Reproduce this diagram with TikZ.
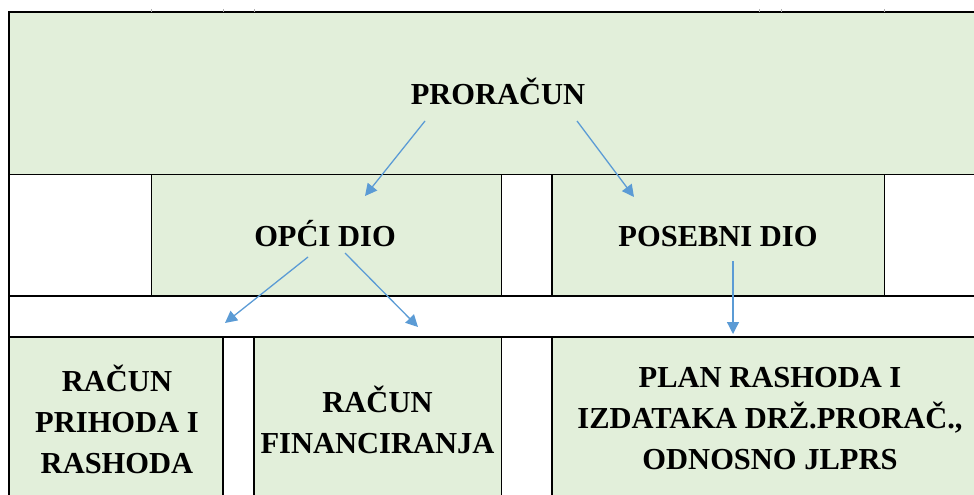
\documentclass[tikz,border=0pt]{standalone}
\usepackage{fontspec}
\setmainfont{Liberation Serif}
\usetikzlibrary{arrows.meta}
\definecolor{cellgreen}{HTML}{E2EFDA}
\definecolor{arrowblue}{HTML}{5B9BD5}

\begin{document}
\begin{tikzpicture}[x=1pt,y=-1pt]
\tikzstyle{cell}=[fill=cellgreen]
\tikzstyle{grid}=[draw=black, line width=1.1pt]
\tikzstyle{outer}=[draw=black, line width=1.8pt]
\tikzstyle{label}=[font=\fontsize{30.5}{41}\selectfont\bfseries, align=center, inner sep=0pt]
\tikzstyle{link}=[draw=arrowblue, line width=1.3pt, -{Triangle[length=12pt,width=12pt]}]

\useasboundingbox (0,0) rectangle (974,495);

% green cells
\fill[cell] (9,12) rectangle (974,174.5);
\fill[cell] (151.5,174.5) rectangle (501.5,296);
\fill[cell] (552,174.5) rectangle (884.5,296);
\fill[cell] (9,337) rectangle (223,495);
\fill[cell] (254,337) rectangle (501.5,495);
\fill[cell] (552,337) rectangle (974,495);

% grid lines
\foreach \y in {174.5,296,337}
  \draw[grid] (9,\y) -- (974,\y);
\foreach \x in {151.5,501.5,552,884.5}
  \draw[grid] (\x,174.5) -- (\x,296);
\foreach \x in {223,254,501.5,552}
  \draw[grid] (\x,337) -- (\x,495);
\draw[outer] (974,12) -- (9,12) -- (9,495);
\foreach \x in {151,223,254,759,781,884}
  \draw[gray!60, line width=0.6pt] (\x,9) -- (\x,12);

% texts
\node[label, anchor=base] (proracun) at (498,104) {PRORAČUN};
\node[label, anchor=base] (opci) at (325,246) {OPĆI DIO};
\node[label, anchor=base] (posebni) at (718,246) {POSEBNI DIO};
\node[label] (prihodi) at (117,419) {RAČUN\\PRIHODA I\\RASHODA};
\node[label] (financ) at (377.5,420) {RAČUN\\FINANCIRANJA};
\node[label] (plan) at (770,419) {PLAN RASHODA I\\IZDATAKA DRŽ.PRORAČ.,\\ODNOSNO JLPRS};

% arrow ends
\coordinate (proracun-l) at (425,121);
\coordinate (proracun-r) at (577,121);
\coordinate (opci-in) at (365,196);
\coordinate (posebni-in) at (634,197);
\coordinate (opci-l) at (308,257);
\coordinate (opci-r) at (345,253);
\coordinate (prihodi-in) at (225,323);
\coordinate (financ-in) at (418,327);
\coordinate (posebni-out) at (733,261);
\coordinate (plan-in) at (733,334);

\draw[link] (proracun-l) -- (opci-in);
\draw[link] (proracun-r) -- (posebni-in);
\draw[link] (opci-l) -- (prihodi-in);
\draw[link] (opci-r) -- (financ-in);
\draw[link] (posebni-out) -- (plan-in);

\end{tikzpicture}
\end{document}
